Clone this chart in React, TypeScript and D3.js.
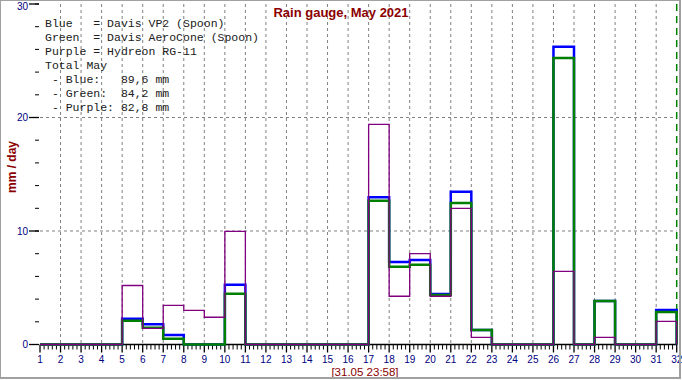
import React from "react";
import * as d3 from "d3";

const days = d3.range(1, 32);
const blue = [0, 0, 0, 0, 2.27, 1.78, 0.84, 0, 0, 5.27, 0, 0, 0, 0, 0, 0, 12.97, 7.27, 7.44, 4.45, 13.46, 1.28, 0, 0, 0, 26.24, 0, 3.83, 0, 0, 3.04];
const green = [0, 0, 0, 0, 2.1, 1.48, 0.5, 0, 0, 4.48, 0, 0, 0, 0, 0, 0, 12.67, 6.86, 7.03, 4.36, 12.47, 1.28, 0, 0, 0, 25.24, 0, 3.83, 0, 0, 2.86];
const purple = [0, 0, 0, 0, 5.2, 1.42, 3.45, 3.0, 2.4, 9.97, 0, 0, 0, 0, 0, 0, 19.4, 4.25, 8.0, 4.25, 12.0, 0.63, 0, 0, 0, 6.45, 0, 0.63, 0, 0, 2.04];
const xTicks = d3.range(1, 33);
const yTicks = [0, 10, 20, 30];
const yMinor = d3.range(0, 31, 2);
const gridY = [10, 20];
const legendLines = [
  "Blue   = Davis VP2 (Spoon)",
  "Green  = Davis AeroCone (Spoon)",
  "Purple = Hydreon RG-11",
  "Total May",
  " - Blue:   89,6 mm",
  " - Green:  84,2 mm",
  " - Purple: 82,8 mm",
];
const title = "Rain gauge, May 2021";
const yLabel = "mm / day";
const stamp = "[31.05 23:58]";

const W = 682, H = 380;
const x = d3.scaleLinear().domain([1, 32]).range([40, 676.7]);
const y = d3.scaleLinear().domain([0, 30]).range([344.5, 4]);

function stepPath(vals: number[]) {
  const pts: [number, number][] = days.map((d, i) => [d, vals[i]]);
  pts.push([32, vals[vals.length - 1]]);
  const line = d3.line<[number, number]>().x(d => x(d[0])).y(d => y(d[1])).curve(d3.curveStepAfter);
  return line(pts)! + `L${x(32)},${y(0)}`;
}

export default function App() {
  const minorX: number[] = [];
  for (let d = 1; d < 32; d++) for (let k = 1; k < 5; k++) minorX.push(d + k / 5);
  const navy = "#000080";
  const dark = "#8b0000";
  return (
    <svg width={W} height={H} style={{ position: "absolute", left: 0, top: 0, background: "#fff" }}>
      <rect x={0} y={0} width={W} height={H} fill="#fff" />
      {xTicks.filter(d => d > 1 && d < 32).map(d => (
        <line key={"gx" + d} x1={x(d)} x2={x(d)} y1={y(30)} y2={y(0)} stroke="#808080" strokeDasharray="3,3" />
      ))}
      {gridY.map(v => (
        <line key={"gy" + v} x1={x(1)} x2={x(32)} y1={y(v)} y2={y(v)} stroke="#808080" strokeDasharray="3,3" />
      ))}
      <line x1={x(32)} x2={x(32)} y1={y(30)} y2={y(0)} stroke="#008000" strokeWidth={1.5} strokeDasharray="7,5" />
      {legendLines.map((t, i) => (
        <text key={"lg" + i} x={45} y={27 + i * 14} fontFamily="'Liberation Mono', 'DejaVu Sans Mono', monospace" fontSize={11.5} fill="#202020" style={{ whiteSpace: "pre" }}>{t}</text>
      ))}
      {yMinor.map(v => (
        <line key={"ym" + v} x1={35} x2={39} y1={y(v)} y2={y(v)} stroke="#000" />
      ))}
      {yTicks.map(v => (
        <g key={"yt" + v}>
          <line x1={29} x2={39} y1={y(v)} y2={y(v)} stroke="#000" strokeWidth={1.3} />
          <text x={28} y={Math.max(y(v) + 3.5, 10)} textAnchor="end" fontFamily="'Liberation Sans', Arial, sans-serif" fontSize={10} fill={navy}>{v}</text>
        </g>
      ))}
      <line x1={x(1)} x2={x(32)} y1={y(0)} y2={y(0)} stroke="#000" strokeWidth={1.3} />
      {minorX.map((d, i) => (
        <line key={"xm" + i} x1={x(d)} x2={x(d)} y1={y(0)} y2={y(0) + 5} stroke="#000" />
      ))}
      {xTicks.map(d => (
        <g key={"xt" + d}>
          <line x1={x(d)} x2={x(d)} y1={y(0)} y2={y(0) + 8} stroke="#000" strokeWidth={1.3} />
          <text x={x(d)} y={363} textAnchor="middle" fontFamily="'Liberation Sans', Arial, sans-serif" fontSize={10} fill={navy}>{d}</text>
        </g>
      ))}
      <path d={stepPath(blue)} fill="none" stroke="#0000ff" strokeWidth={2.5} />
      <path d={stepPath(green)} fill="none" stroke="#008000" strokeWidth={2.5} />
      <path d={stepPath(purple)} fill="none" stroke="#800080" strokeWidth={1.3} />
      <text x={341} y={17} textAnchor="middle" fontFamily="'Liberation Sans', Arial, sans-serif" fontWeight="bold" fontSize={13} fill={dark}>{title}</text>
      <text transform={`translate(16,167) rotate(-90)`} textAnchor="middle" fontFamily="'Liberation Sans', Arial, sans-serif" fontWeight="bold" fontSize={12} fill={dark}>{yLabel}</text>
      <text x={365} y={376} textAnchor="middle" fontFamily="'Liberation Sans', Arial, sans-serif" fontSize={11.5} fill={dark}>{stamp}</text>
      <line x1={0} x2={681} y1={0.5} y2={0.5} stroke="#a0a0a0" />
      <line x1={0.5} x2={0.5} y1={0} y2={379} stroke="#a0a0a0" />
      <line x1={680} x2={680} y1={0} y2={379} stroke="#a0a0a0" strokeWidth={2} />
      <line x1={0} x2={681} y1={378} y2={378} stroke="#a0a0a0" strokeWidth={2} />
    </svg>
  );
}
